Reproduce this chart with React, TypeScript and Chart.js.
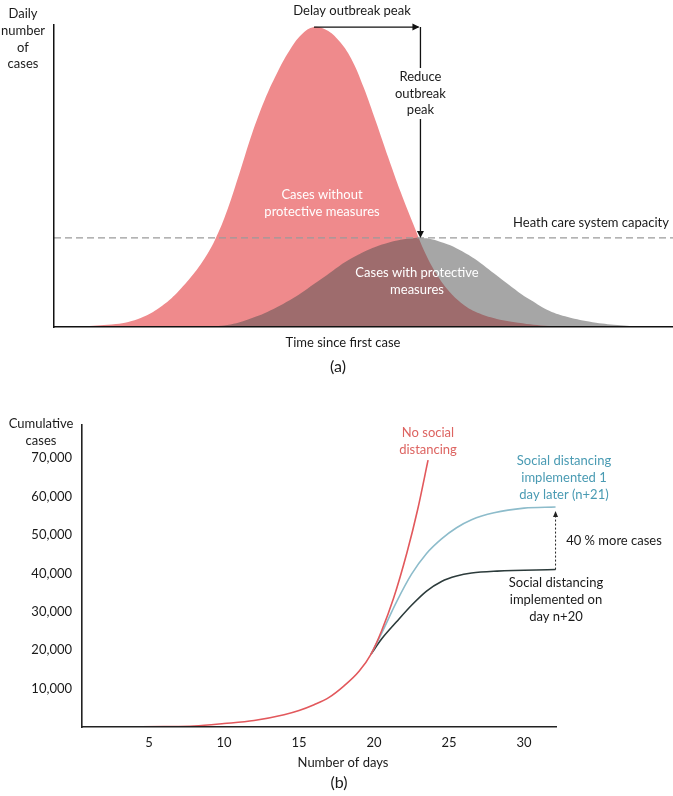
import { useEffect, useRef } from 'react';
import { Chart, registerables } from 'chart.js';
Chart.register(...registerables);

// ---------- Panel (a): daily number of cases (relative units) ----------
const timeNoMeasures = [0, 5, 10, 12, 14, 16, 18, 20, 22, 24, 26, 28, 30, 32, 34, 36, 38, 40, 42, 44, 46, 48, 50, 52, 54, 56, 58, 60, 62, 64, 66, 68, 71, 75, 80, 85, 100];
const casesNoMeasures = [0, 0.3, 1.0, 1.7, 3.0, 5.0, 7.9, 11.7, 16.3, 21.8, 29, 39, 51.5, 64.5, 75.5, 84.5, 92, 97.5, 100, 99, 95.5, 89.5, 80, 68.5, 56.5, 45, 34.5, 24.5, 17, 11.5, 7.7, 5.2, 3.0, 1.4, 0.3, 0, 0];
const timeWithMeasures = [0, 20, 24, 26, 28, 30, 32, 34, 36, 38, 40, 42, 44, 46, 48, 50, 52, 54, 56, 58, 59.5, 61, 63, 65, 67, 69, 71, 73, 75, 77, 80, 83, 87, 91, 95, 98, 100];
const casesWithMeasures = [0, 0, 0.1, 0.3, 0.7, 1.6, 3.0, 4.6, 6.6, 8.8, 11.4, 14.3, 17.2, 20.2, 22.8, 25, 26.8, 28.1, 29.1, 29.6, 29.7, 29.3, 28, 26.3, 24, 21.2, 18, 14.8, 11.7, 9, 5.4, 3.3, 1.6, 0.7, 0.2, 0, 0];
const capacityTimes = [0, 100];
const capacityLevel = 29.7;
const peakNoMeasuresTime = 42;
const peakNoMeasuresLevel = 100;
const peakWithMeasuresTime = 59.2;

// ---------- Panel (b): cumulative cases ----------
const daysNoDistancing = [0.6, 3, 6, 8, 10, 12, 14, 15, 16, 17, 18, 19, 19.8, 20.5, 21.3, 22.2, 22.9, 23.6];
const casesNoDistancing = [0, 0, 100, 260, 900, 1700, 3200, 4300, 5800, 7700, 10700, 14500, 19000, 25000, 33500, 45500, 56500, 69500];
const daysLater = [19.8, 20.5, 21.5, 22.5, 23.5, 24.5, 25.5, 26.5, 28, 30, 32.1];
const casesLater = [19000, 24400, 32600, 39800, 45200, 49000, 51900, 54000, 55800, 57000, 57300];
const daysOnTime = [19.8, 20.5, 21.5, 22.5, 23.5, 24.5, 25.5, 26.5, 28.2, 32.1];
const casesOnTime = [19000, 22900, 27400, 31700, 35400, 37900, 39300, 40100, 40600, 41000];
const xTickDays = [5, 10, 15, 20, 25, 30];
const yTickCases = [10000, 20000, 30000, 40000, 50000, 60000, 70000];

const FONT = 'Lato, "Open Sans", "DejaVu Sans", sans-serif';
const TEXT = '#1a1a1a';

function pts(xs: number[], ys: number[]) {
  return xs.map((x, i) => ({ x, y: ys[i] }));
}

function lines(ctx: CanvasRenderingContext2D, arr: string[], cx: number, y0: number, lh: number, color: string, size = 13) {
  ctx.save();
  ctx.fillStyle = color;
  ctx.font = `${size}px ${FONT}`;
  ctx.textAlign = 'center';
  ctx.textBaseline = 'middle';
  arr.forEach((t, i) => ctx.fillText(t, cx, y0 + i * lh));
  ctx.restore();
}

function head(ctx: CanvasRenderingContext2D, x: number, y: number, dir: 'right' | 'down' | 'up', len = 7, half = 3.5) {
  ctx.beginPath();
  if (dir === 'right') {
    ctx.moveTo(x, y); ctx.lineTo(x - len, y - half); ctx.lineTo(x - len, y + half);
  } else if (dir === 'down') {
    ctx.moveTo(x, y); ctx.lineTo(x - half, y - len); ctx.lineTo(x + half, y - len);
  } else {
    ctx.moveTo(x, y); ctx.lineTo(x - half, y + len); ctx.lineTo(x + half, y + len);
  }
  ctx.closePath();
  ctx.fill();
}

function PanelA() {
  const ref = useRef<HTMLCanvasElement>(null);
  useEffect(() => {
    const annot = {
      id: 'annotA',
      afterDraw(chart: any) {
        const ctx: CanvasRenderingContext2D = chart.ctx;
        const xs = chart.scales.x, ys = chart.scales.y;
        const xPeak = xs.getPixelForValue(peakNoMeasuresTime);
        const yPeak = ys.getPixelForValue(peakNoMeasuresLevel);
        const xNew = xs.getPixelForValue(peakWithMeasuresTime);
        const yCap = ys.getPixelForValue(capacityLevel);
        ctx.save();
        ctx.strokeStyle = '#111';
        ctx.fillStyle = '#111';
        ctx.lineWidth = 1.3;
        ctx.beginPath();
        ctx.moveTo(xPeak, yPeak); ctx.lineTo(xNew - 2, yPeak);
        ctx.stroke();
        head(ctx, xNew - 1, yPeak, 'right');
        ctx.beginPath();
        ctx.moveTo(xNew, yPeak); ctx.lineTo(xNew, 68);
        ctx.moveTo(xNew, 119); ctx.lineTo(xNew, yCap - 3);
        ctx.stroke();
        head(ctx, xNew, yCap, 'down');
        ctx.restore();

        lines(ctx, ['Daily', 'number', 'of', 'cases'], 23, 14, 16.7, TEXT);
        lines(ctx, ['Delay outbreak peak'], 352, 11, 16, TEXT);
        lines(ctx, ['Reduce', 'outbreak', 'peak'], xNew, 77, 16.5, TEXT);
        lines(ctx, ['Cases without', 'protective measures'], 322, 195, 17, '#fff');
        lines(ctx, ['Cases with protective', 'measures'], 417, 273, 16.5, '#fff');
        lines(ctx, ['Heath care system capacity'], 591, 223, 16, TEXT);
        lines(ctx, ['Time since first case'], 343, 343, 16, TEXT);
        lines(ctx, ['(a)'], 338, 367, 16, TEXT, 16);
      },
    };
    const chart = new Chart(ref.current!, {
      type: 'line',
      data: {
        datasets: [
          {
            label: 'capacity', data: pts(capacityTimes, capacityTimes.map(() => capacityLevel)),
            borderColor: '#9a9a9a', borderWidth: 1.3, borderDash: [7, 4], pointRadius: 0, fill: false, order: 0,
          },
          {
            label: 'with', data: pts(timeWithMeasures, casesWithMeasures),
            borderColor: 'transparent', borderWidth: 0, backgroundColor: 'rgba(78,78,78,0.5)', fill: 'origin',
            pointRadius: 0, tension: 0.4, order: 1,
          },
          {
            label: 'without', data: pts(timeNoMeasures, casesNoMeasures),
            borderColor: 'transparent', borderWidth: 0, backgroundColor: '#EF8A8C', fill: 'origin',
            pointRadius: 0, tension: 0.4, order: 2,
          },
        ],
      } as any,
      options: {
        responsive: false,
        animation: false,
        events: [],
        layout: { padding: { left: 54, right: 0, top: 25, bottom: 53 } },
        plugins: { legend: { display: false }, tooltip: { enabled: false } },
        scales: {
          x: {
            type: 'linear', min: 0, max: 100,
            ticks: { display: false }, grid: { display: false, drawTicks: false },
            border: { display: true, color: '#111', width: 1.5, z: 1 },
            afterFit: (s: any) => { s.height = 0; },
          },
          y: {
            type: 'linear', min: 0, max: 100.7,
            ticks: { display: false }, grid: { display: false, drawTicks: false },
            border: { display: true, color: '#111', width: 1.5, z: 1 },
            afterFit: (s: any) => { s.width = 0; },
          },
        },
      } as any,
      plugins: [annot],
    });
    return () => chart.destroy();
  }, []);
  return <canvas ref={ref} width={673} height={380} style={{ display: 'block', width: 673, height: 380, position: 'absolute', left: 0, top: 0 }} />;
}

function PanelB() {
  const ref = useRef<HTMLCanvasElement>(null);
  useEffect(() => {
    const annot = {
      id: 'annotB',
      afterDraw(chart: any) {
        const ctx: CanvasRenderingContext2D = chart.ctx;
        const xs = chart.scales.x, ys = chart.scales.y;
        const xEnd = xs.getPixelForValue(daysOnTime[daysOnTime.length - 1]);
        const yLow = ys.getPixelForValue(casesOnTime[casesOnTime.length - 1]);
        const yHigh = ys.getPixelForValue(casesLater[casesLater.length - 1]);
        ctx.save();
        ctx.strokeStyle = '#222';
        ctx.fillStyle = '#222';
        ctx.lineWidth = 1;
        ctx.setLineDash([2, 2]);
        ctx.beginPath();
        ctx.moveTo(xEnd, yLow); ctx.lineTo(xEnd, yHigh + 9);
        ctx.stroke();
        ctx.setLineDash([]);
        head(ctx, xEnd, yHigh + 4, 'up', 6, 2.5);
        ctx.restore();

        lines(ctx, ['Cumulative', 'cases'], 41, 44, 17, TEXT);
        lines(ctx, ['No social', 'distancing'], 428, 53, 17, '#DD6461');
        lines(ctx, ['Social distancing', 'implemented 1', 'day later (n+21)'], 564, 81, 17, '#4A9BB3');
        lines(ctx, ['40 % more cases'], 614, 161, 16, TEXT);
        lines(ctx, ['Social distancing', 'implemented on', 'day n+20'], 556, 203, 17, TEXT);
        lines(ctx, ['Number of days'], 343, 383, 16, TEXT);
        lines(ctx, ['(b)'], 339, 403, 16, TEXT, 16);
      },
    };
    const chart = new Chart(ref.current!, {
      type: 'line',
      data: {
        datasets: [
          {
            label: 'No social distancing', data: pts(daysNoDistancing, casesNoDistancing),
            borderColor: '#E2585C', borderWidth: 1.6, pointRadius: 0, fill: false, cubicInterpolationMode: 'monotone', order: 0,
          },
          {
            label: 'n+21', data: pts(daysLater, casesLater),
            borderColor: '#8DBCCB', borderWidth: 1.6, pointRadius: 0, fill: false, cubicInterpolationMode: 'monotone', order: 1,
          },
          {
            label: 'n+20', data: pts(daysOnTime, casesOnTime),
            borderColor: '#2C3B3B', borderWidth: 1.6, pointRadius: 0, fill: false, cubicInterpolationMode: 'monotone', order: 2,
          },
        ],
      } as any,
      options: {
        responsive: false,
        animation: false,
        events: [],
        layout: { padding: { left: 0, right: 117, top: 45, bottom: 0 } },
        plugins: { legend: { display: false }, tooltip: { enabled: false } },
        scales: {
          x: {
            type: 'linear', min: 0.53, max: 32.13,
            afterBuildTicks: (s: any) => { s.ticks = xTickDays.map((v) => ({ value: v })); },
            ticks: { padding: 8, autoSkip: false, maxRotation: 0, color: TEXT, font: { family: FONT, size: 13 } },
            grid: { display: false, drawTicks: false },
            border: { display: true, color: '#222', width: 1.6, z: 1 },
            afterFit: (s: any) => { s.height = 69; },
          },
          y: {
            type: 'linear', min: 0, max: 78650,
            afterBuildTicks: (s: any) => { s.ticks = yTickCases.map((v) => ({ value: v })); },
            ticks: {
              padding: 10, color: TEXT, font: { family: FONT, size: 13 },
              callback: (v: any) => Number(v).toLocaleString('en-US'),
            },
            grid: { display: false, drawTicks: false },
            border: { display: true, color: '#222', width: 1.6, z: 1 },
            afterFit: (s: any) => { s.width = 82; },
          },
        },
      } as any,
      plugins: [annot],
    });
    return () => chart.destroy();
  }, []);
  return <canvas ref={ref} width={673} height={416} style={{ display: 'block', width: 673, height: 416, position: 'absolute', left: 0, top: 380 }} />;
}

export default function App() {
  useEffect(() => {
    document.body.style.margin = '0';
  }, []);
  return (
    <div style={{ position: 'relative', width: 673, height: 796, background: '#fff', overflow: 'hidden' }}>
      <PanelA />
      <PanelB />
    </div>
  );
}
